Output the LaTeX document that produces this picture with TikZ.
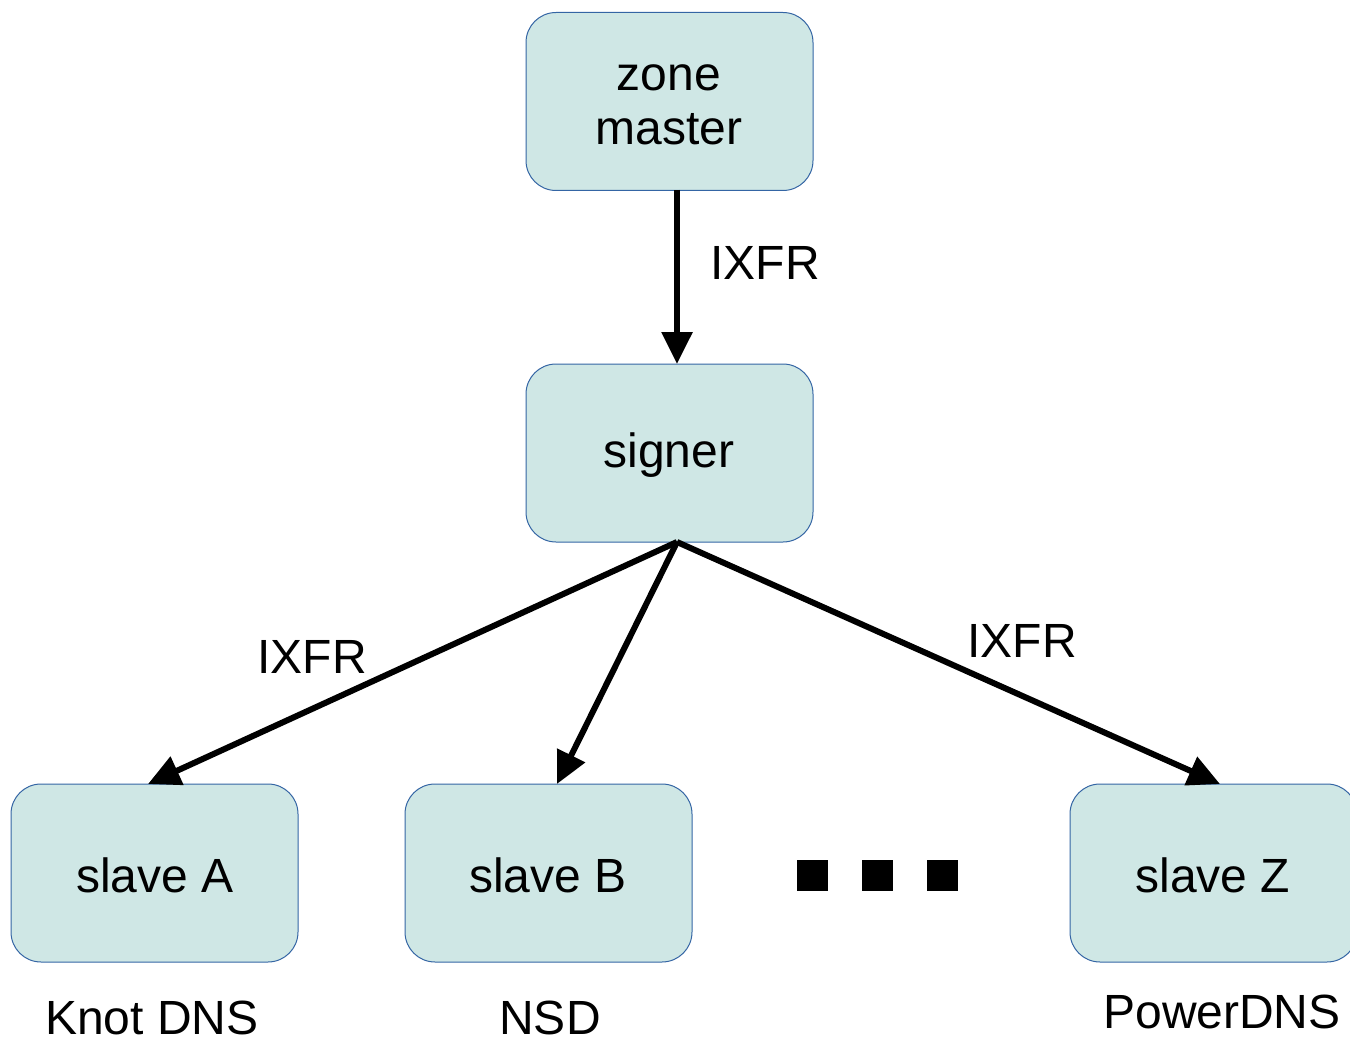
\documentclass[tikz,border=0pt]{standalone}
\usepackage{fontspec}
\setmainfont{Liberation Sans}
\usetikzlibrary{arrows.meta}
\definecolor{boxfill}{RGB}{207,231,229}
\definecolor{boxline}{RGB}{52,101,164}
\begin{document}
\begin{tikzpicture}[x=1pt,y=-1pt,
  boxnode/.style={draw=boxline, line width=1pt, fill=boxfill, rounded corners=30pt,
    minimum width=287pt, minimum height=178pt, inner sep=0pt, align=center},
  lbl/.style={font=\fontsize{48}{54}\selectfont, inner sep=0pt},
  conn/.style={line width=6pt, -{Triangle[length=32pt,width=30pt]}},
  dotsq/.style={fill=black, minimum size=31pt, inner sep=0pt}]
\useasboundingbox (0,0) rectangle (1350,1038);
\begin{scope}
\clip (0,0) rectangle (1350,1038);
\node[boxnode] (zm) at (669.5,101.5) {};
\node[boxnode] (sg) at (669.5,453) {};
\node[boxnode] (sa) at (154.5,873) {};
\node[boxnode] (sb) at (548.5,873) {};
\node[boxnode] (sz) at (1213.5,873) {};
\end{scope}
\node[lbl, align=center] (zmt) at (669,105) {zone\\master};
\node[lbl] (sgt) at (669,455) {signer};
\node[lbl] (sat) at (155,875) {slave A};
\node[lbl] (sbt) at (548,875) {slave B};
\node[lbl] (szt) at (1213,875) {slave Z};
\coordinate (zmb) at (677,190);
\coordinate (sgtop) at (677,364);
\coordinate (sgb) at (677,542);
\coordinate (saT) at (148,784);
\coordinate (sbT) at (557,784);
\coordinate (szT) at (1220,784);
\draw[conn] (zmb) -- (sgtop);
\draw[conn] (sgb) -- (saT);
\draw[conn] (sgb) -- (sbT);
\draw[conn] (sgb) -- (szT);
\node[lbl] (l1) at (765,263) {IXFR};
\node[lbl] (l2) at (312,657) {IXFR};
\node[lbl] (l3) at (1022,641) {IXFR};
\node[dotsq] (d1) at (812.5,875) {};
\node[dotsq] (d2) at (877.5,875) {};
\node[dotsq] (d3) at (942.5,875) {};
\node[lbl] (k1) at (152,1018) {Knot DNS};
\node[lbl] (k2) at (550,1018) {NSD};
\node[lbl] (k3) at (1222,1012) {PowerDNS};
\end{tikzpicture}
\end{document}
